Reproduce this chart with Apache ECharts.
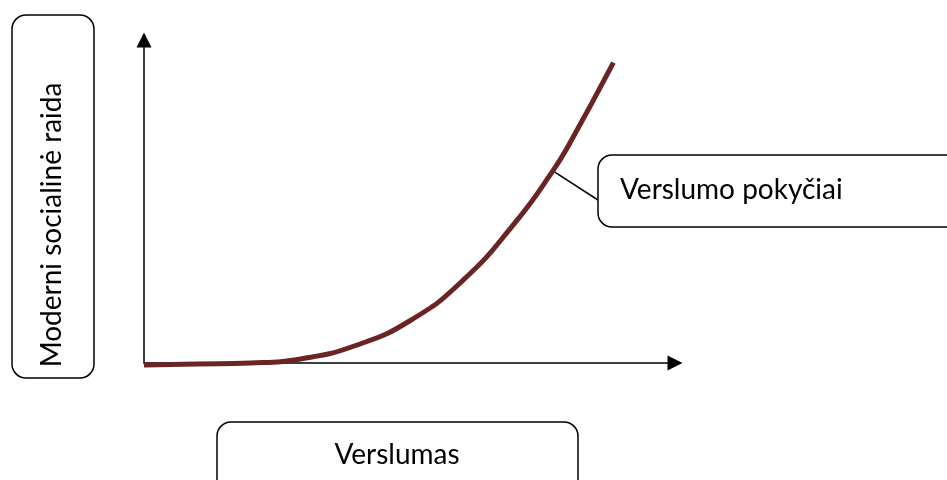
<!DOCTYPE html>
<html>
<head>
<meta charset="utf-8">
<script src="https://cdn.jsdelivr.net/npm/echarts@6/dist/echarts.min.js"></script>
<style>
  html, body { margin: 0; padding: 0; background: #fff; }
  #chart { width: 947px; height: 480px; }
</style>
</head>
<body>
<div id="chart"></div>
<script>
// Curve of business change against modern social development
const xValues = [0, 10, 20, 30, 40, 50, 60, 70, 77, 80, 88.4];
const yValues = [-0.6, -0.3, 0, 1.4, 5.5, 13, 25.5, 43.7, 59.5, 67.5, 93];

const xTitle = 'Verslumas';
const yTitle = 'Moderni socialinė raida';
const curveName = 'Verslumo pokyčiai';
const calloutIndex = 8; // point of the curve the callout points at

const FONT = 'Lato, "Open Sans", sans-serif';
const CURVE_COLOR = '#6a2424';

const chart = echarts.init(document.getElementById('chart'), null, { renderer: 'canvas' });

const axisCommon = {
  type: 'value',
  min: 0,
  max: 100,
  axisLine: {
    show: true,
    onZero: false,
    symbol: ['none', 'triangle'],
    symbolSize: [15, 15],
    lineStyle: { color: '#000', width: 1.5 }
  },
  axisTick: { show: false },
  axisLabel: { show: false },
  splitLine: { show: false }
};

const option = {
  animation: false,
  backgroundColor: '#fff',
  grid: { left: 144, top: 40, width: 531, height: 323 },
  xAxis: Object.assign({}, axisCommon),
  yAxis: Object.assign({}, axisCommon),
  series: [{
    name: curveName,
    type: 'line',
    data: xValues.map((x, i) => [x, yValues[i]]),
    smooth: 0.5,
    showSymbol: false,
    clip: false,
    lineStyle: { color: CURVE_COLOR, width: 5, cap: 'butt' },
    z: 3
  }]
};
chart.setOption(option);

// Boxes, titles and the callout connector
const anchor = chart.convertToPixel({ gridIndex: 0 }, [xValues[calloutIndex], yValues[calloutIndex]]);
const boxStyle = { fill: 'none', stroke: '#000', lineWidth: 1.5 };

chart.setOption({
  graphic: [
    { type: 'rect', shape: { x: 12, y: 15, width: 82, height: 363, r: 14 }, style: boxStyle },
    {
      type: 'text', x: 52, y: 225, rotation: Math.PI / 2,
      style: { text: yTitle, font: '28px ' + FONT, fill: '#000', align: 'center', verticalAlign: 'middle' }
    },
    { type: 'rect', shape: { x: 217, y: 422, width: 361, height: 80, r: 14 }, style: boxStyle },
    {
      type: 'text', x: 397, y: 455,
      style: { text: xTitle, font: '28px ' + FONT, fill: '#000', align: 'center', verticalAlign: 'middle' }
    },
    { type: 'rect', shape: { x: 598, y: 155, width: 380, height: 72, r: 14 }, style: boxStyle },
    {
      type: 'text', x: 620, y: 190,
      style: { text: curveName, font: '28px ' + FONT, fill: '#000', align: 'left', verticalAlign: 'middle' }
    },
    {
      type: 'line', z: 1,
      shape: { x1: anchor[0], y1: anchor[1], x2: 598, y2: 200 },
      style: { stroke: '#000', lineWidth: 1.5 }
    }
  ]
});
</script>
</body>
</html>
